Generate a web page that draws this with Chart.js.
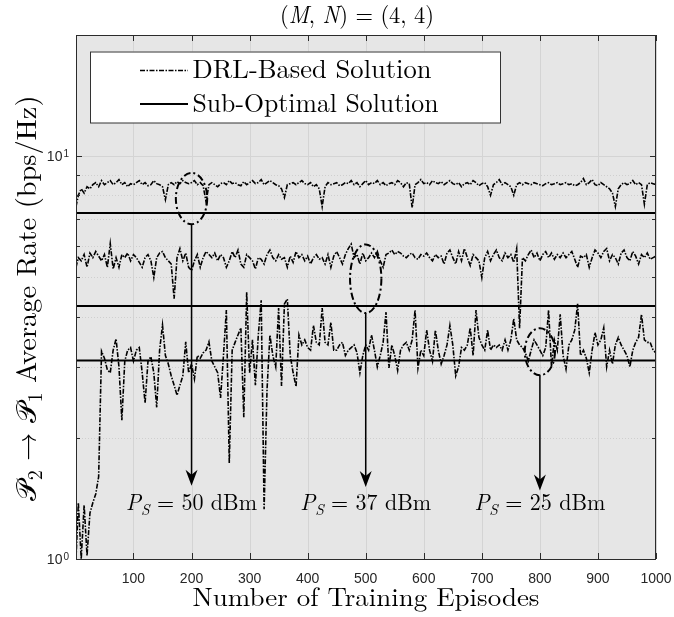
<!DOCTYPE html>
<html>
<head>
<meta charset="utf-8">
<script src="https://cdn.jsdelivr.net/npm/chart.js@4.4.0/dist/chart.umd.min.js"></script>
<style>
  html, body { margin: 0; padding: 0; background: #fff; }
</style>
</head>
<body>
<canvas id="rateChart" width="674" height="617"></canvas>
<script>
// episodes sampled every 5
const episodes = [1].concat(Array.from({ length: 200 }, (_, i) => (i + 1) * 5));

// P_S = 50 dBm
const drl50 = [7.5,
  8.0, 8.3, 8.1, 8.4, 8.3, 8.5, 8.6, 8.4, 8.7, 8.5,
  8.6, 8.7, 8.5, 8.6, 8.75, 8.5, 8.6, 8.4, 8.55, 8.5,
  8.6, 8.7, 8.5, 8.6, 8.45, 8.5, 8.7, 8.55, 8.5, 8.4,
  7.8, 8.5, 8.6, 8.5, 8.65, 8.55, 8.7, 8.6, 8.55, 8.6,
  8.7, 8.5, 8.6, 8.45, 7.7, 8.5, 8.6, 8.5, 8.4, 8.55,
  8.6, 8.5, 8.7, 8.55, 8.6, 8.5, 8.45, 8.65, 8.5, 8.6,
  8.7, 8.55, 8.6, 8.75, 8.5, 8.6, 8.7, 8.6, 8.5, 8.45,
  8.3, 7.9, 8.5, 8.55, 8.6, 8.5, 8.6, 8.7, 8.55, 8.5,
  8.6, 8.4, 8.5, 8.3, 7.5, 8.4, 8.6, 8.5, 8.55, 8.6,
  8.45, 8.5, 8.6, 8.55, 8.7, 8.5, 8.6, 8.4, 8.55, 8.7,
  8.5, 8.6, 8.55, 8.7, 8.5, 8.6, 8.45, 8.55, 8.6, 8.5,
  8.7, 8.6, 8.4, 8.6, 8.55, 7.45, 8.5, 8.6, 8.75, 8.55,
  8.6, 8.5, 8.7, 8.6, 8.55, 8.65, 8.5, 8.6, 8.7, 8.55,
  8.5, 8.6, 8.4, 8.55, 8.6, 8.5, 8.7, 8.6, 8.45, 8.55,
  8.6, 8.4, 8.0, 8.5, 8.6, 8.75, 8.5, 8.6, 8.5, 8.4,
  8.0, 8.5, 8.6, 8.5, 8.6, 8.55, 8.5, 8.6, 8.55, 8.5,
  8.45, 8.55, 8.6, 8.5, 8.55, 8.6, 8.5, 8.55, 8.6, 8.5,
  8.55, 8.45, 8.5, 8.6, 8.8, 8.5, 8.6, 8.75, 8.5, 8.45,
  8.6, 8.5, 8.4, 8.3, 8.1, 7.5, 8.3, 8.5, 8.6, 8.5,
  8.55, 8.7, 8.5, 8.6, 8.5, 7.6, 8.5, 8.6, 8.55, 8.5];

// P_S = 37 dBm
const drl37 = [5.3,
  5.6, 5.5, 5.7, 5.3, 5.75, 5.6, 5.8, 5.65, 5.5, 5.7,
  5.3, 6.07, 5.25, 5.6, 5.3, 5.7, 5.6, 5.75, 5.5, 5.7,
  5.6, 5.45, 5.3, 5.6, 5.7, 5.5, 5.0, 5.6, 5.75, 5.8,
  5.6, 5.5, 5.4, 4.43, 5.6, 5.9, 5.5, 5.75, 5.3, 5.2,
  5.5, 5.7, 5.3, 5.6, 5.8, 5.7, 5.6, 5.75, 5.5, 5.7,
  5.6, 5.3, 5.5, 5.8, 5.6, 5.85, 5.4, 5.3, 5.7, 5.6,
  5.5, 5.25, 5.6, 5.55, 5.4, 5.7, 5.85, 5.6, 5.5, 5.7,
  5.55, 5.6, 5.3, 5.65, 5.45, 5.8, 5.6, 5.7, 5.5, 5.65,
  5.4, 5.6, 5.7, 5.55, 5.6, 5.4, 5.7, 5.3, 5.65, 5.8,
  5.6, 5.4, 5.7, 5.9, 6.05, 5.6, 5.7, 5.4, 5.75, 5.5,
  5.6, 5.75, 5.6, 5.8, 5.5, 5.3, 5.7, 5.75, 5.85, 5.7,
  5.8, 5.75, 5.65, 5.6, 5.7, 5.75, 5.6, 5.55, 5.7, 5.65,
  5.75, 5.6, 5.5, 5.7, 5.6, 5.65, 5.4, 5.75, 5.85, 5.6,
  5.4, 5.8, 5.5, 5.9, 5.6, 5.35, 5.7, 5.6, 5.5, 5.0,
  5.6, 5.8, 5.5, 5.7, 5.85, 5.6, 5.5, 5.75, 5.6, 5.7,
  5.45, 5.9, 3.74, 5.6, 5.5, 5.7, 5.85, 5.6, 5.75, 5.5,
  5.7, 5.8, 5.6, 5.75, 5.55, 5.7, 5.6, 5.75, 5.6, 5.7,
  5.8, 5.55, 5.3, 5.65, 5.6, 5.7, 5.3, 5.6, 5.85, 5.75,
  5.6, 5.8, 5.9, 5.5, 5.7, 5.6, 5.4, 5.75, 5.85, 5.6,
  5.5, 5.8, 5.65, 5.4, 5.7, 5.6, 5.75, 5.55, 5.6, 5.65];

// P_S = 25 dBm
const drl25 = [1.0,
  1.38, 1.0, 1.36, 1.02, 1.3, 1.38, 1.45, 1.6, 3.28, 3.15,
  2.95, 2.9, 3.3, 3.52, 3.0, 2.21, 3.1, 3.3, 3.35, 3.1,
  3.3, 3.35, 2.9, 2.44, 3.1, 3.18, 2.9, 2.38, 3.3, 3.81,
  3.2, 3.05, 2.85, 2.7, 2.55, 2.7, 2.85, 3.46, 2.9, 3.05,
  2.8, 3.2, 3.15, 3.25, 3.3, 3.46, 3.1, 3.0, 2.9, 2.51,
  3.2, 4.15, 1.73, 3.3, 3.45, 3.6, 3.75, 2.25, 4.6, 2.9,
  3.5, 2.7, 3.6, 4.39, 1.33, 2.63, 3.6, 3.2, 3.0, 4.2,
  2.69, 4.3, 4.42, 3.2, 2.9, 2.68, 3.6, 3.4, 3.5, 3.35,
  3.3, 3.8, 3.45, 3.4, 4.2, 3.45, 3.4, 3.87, 3.3, 3.3,
  3.4, 3.45, 3.2, 3.3, 3.35, 3.4, 3.25, 2.9, 3.2, 3.4,
  3.3, 3.6, 3.3, 3.0, 3.2, 3.45, 4.1, 2.98, 3.4, 3.2,
  2.94, 3.3, 3.4, 3.45, 3.3, 3.5, 4.15, 2.98, 3.3, 3.2,
  3.7, 3.3, 3.1, 3.7, 3.3, 3.05, 3.2, 3.4, 3.8, 3.4,
  2.85, 3.0, 3.35, 3.3, 3.4, 3.75, 3.2, 4.15, 3.55, 3.4,
  3.3, 3.7, 3.3, 3.4, 3.35, 3.4, 3.3, 3.5, 3.3, 3.5,
  3.95, 3.5, 3.4, 3.35, 3.25, 3.1, 3.3, 3.5, 3.4, 3.3,
  3.2, 3.35, 4.15, 3.0, 3.5, 3.3, 4.05, 3.2, 2.96, 3.4,
  3.5, 3.7, 4.3, 3.2, 3.3, 3.15, 2.9, 3.3, 3.65, 3.4,
  3.5, 3.75, 3.0, 3.3, 3.05, 3.4, 3.55, 3.4, 3.3, 3.2,
  3.0, 3.3, 3.45, 3.55, 4.05, 3.5, 3.45, 3.45, 3.3, 3.25];

// sub-optimal levels for 50, 37, 25 dBm
const subOptimal = [7.23, 4.25, 3.11];

const xTicks = [100, 200, 300, 400, 500, 600, 700, 800, 900, 1000];
const yMajor = [1, 10];
const yMinor = [2, 3, 4, 5, 6, 7, 8, 9, 20];

const powerLabels = ['50', '37', '25'];
const markEpisodes = [200, 500, 800];

// ellipse extents (value units) and arrow tips for each marker
const marks = [
  { lo: 6.78, hi: 9.09, halfW: 27, tip: 1.52 },
  { lo: 4.08, hi: 6.04, halfW: 27, tip: 1.51 },
  { lo: 2.86, hi: 3.74, halfW: 26, tip: 1.48 }
];

const SERIF = '"Latin Modern Roman", "Liberation Serif", serif';
const SANS = '"Liberation Sans", Arial, sans-serif';

function fontFor(p, size) {
  const s = p.sub ? Math.round(size * 0.7) : size;
  return (p.it ? 'italic ' : '') + s + 'px ' + SERIF;
}

// draws text runs (italic / subscript), optionally stretched to a width
function drawRuns(ctx, parts, size, width, x, y, align, angle) {
  ctx.save();
  ctx.translate(x, y);
  if (angle) ctx.rotate(angle);
  let total = 0;
  const w = parts.map(p => {
    ctx.font = fontFor(p, size);
    const m = ctx.measureText(p.t).width;
    total += m;
    return m;
  });
  if (width) ctx.scale(width / total, 1);
  let cx = align === 'center' ? -total / 2 : 0;
  ctx.fillStyle = '#000';
  ctx.textBaseline = 'alphabetic';
  ctx.textAlign = 'left';
  parts.forEach((p, i) => {
    ctx.font = fontFor(p, size);
    ctx.fillText(p.t, cx, p.sub ? size * 0.22 : 0);
    cx += w[i];
  });
  ctx.restore();
}

function seg(ctx, x1, y1, x2, y2) {
  ctx.beginPath();
  ctx.moveTo(x1, y1);
  ctx.lineTo(x2, y2);
  ctx.stroke();
}

const frame = {
  id: 'frame',
  beforeDatasetsDraw(chart) {
    const { ctx, chartArea: a, scales: { x, y } } = chart;
    ctx.save();
    ctx.fillStyle = '#e6e6e6';
    ctx.fillRect(a.left, a.top, a.right - a.left, a.bottom - a.top);
    ctx.lineWidth = 1;
    ctx.strokeStyle = '#d4d4d4';
    xTicks.forEach(v => {
      const px = Math.round(x.getPixelForValue(v)) + 0.5;
      seg(ctx, px, a.top, px, a.bottom);
    });
    yMajor.forEach(v => {
      const py = Math.round(y.getPixelForValue(v)) + 0.5;
      seg(ctx, a.left, py, a.right, py);
    });
    ctx.strokeStyle = '#cfcfcf';
    ctx.setLineDash([1, 2]);
    yMinor.forEach(v => {
      const py = Math.round(y.getPixelForValue(v)) + 0.5;
      seg(ctx, a.left, py, a.right, py);
    });
    ctx.restore();
  },
  afterDatasetsDraw(chart) {
    const { ctx, chartArea: a, scales: { x, y } } = chart;
    ctx.save();

    // axes box and inward ticks
    ctx.strokeStyle = '#2b2b2b';
    ctx.lineWidth = 1;
    ctx.strokeRect(Math.round(a.left) + 0.5, Math.round(a.top) + 0.5,
      Math.round(a.right - a.left) - 1, Math.round(a.bottom - a.top));
    xTicks.forEach(v => {
      const px = Math.round(x.getPixelForValue(v)) + 0.5;
      seg(ctx, px, a.bottom, px, a.bottom - 6);
      seg(ctx, px, a.top, px, a.top + 6);
    });
    yMajor.concat(yMinor).forEach(v => {
      const py = Math.round(y.getPixelForValue(v)) + 0.5;
      const len = v === 1 || v === 10 ? 6 : 4;
      seg(ctx, a.left, py, a.left + len, py);
      seg(ctx, a.right, py, a.right - len, py);
    });

    // tick labels
    ctx.fillStyle = '#262626';
    ctx.font = '14px ' + SANS;
    ctx.textAlign = 'center';
    ctx.textBaseline = 'alphabetic';
    xTicks.forEach(v => ctx.fillText(String(v), x.getPixelForValue(v), a.bottom + 24));
    yMajor.forEach((v, i) => {
      const py = y.getPixelForValue(v);
      ctx.font = '10px ' + SANS;
      ctx.textAlign = 'right';
      ctx.fillText(String(i), a.left - 7, py + 1);
      const ew = ctx.measureText(String(i)).width;
      ctx.font = '14px ' + SANS;
      ctx.fillText('10', a.left - 8 - ew, py + 5);
    });

    // legend
    const lx = a.left + 14, ly = a.top + 16.5;
    ctx.fillStyle = '#fff';
    ctx.fillRect(lx, ly, 411, 71.5);
    ctx.strokeStyle = '#333';
    ctx.strokeRect(lx + 0.5, ly + 0.5, 410, 71);
    ctx.strokeStyle = '#000';
    ctx.lineWidth = 1.5;
    ctx.setLineDash(dashStyle);
    seg(ctx, a.left + 64, a.top + 35.5, a.left + 112, a.top + 35.5);
    ctx.setLineDash([]);
    ctx.lineWidth = 2;
    seg(ctx, a.left + 64, a.top + 69, a.left + 112, a.top + 69);
    drawRuns(ctx, [{ t: 'DRL-Based Solution' }], 26.5, 239, a.left + 116.5, a.top + 43, 'left');
    drawRuns(ctx, [{ t: 'Sub-Optimal Solution' }], 26.5, 246, a.left + 116.5, a.top + 76.5, 'left');

    // ellipses, arrows and power labels
    markEpisodes.forEach((ep, i) => {
      const m = marks[i];
      const cx = x.getPixelForValue(ep);
      const top = y.getPixelForValue(m.hi);
      const bot = y.getPixelForValue(m.lo);
      const rx = x.getPixelForValue(ep + m.halfW) - cx;
      ctx.strokeStyle = '#000';
      ctx.lineWidth = 2;
      ctx.setLineDash([7, 3, 2, 3]);
      ctx.beginPath();
      ctx.ellipse(cx, (top + bot) / 2, rx, (bot - top) / 2, 0, 0, Math.PI * 2);
      ctx.stroke();
      ctx.setLineDash([]);
      const tip = y.getPixelForValue(m.tip);
      ctx.lineWidth = 1.5;
      seg(ctx, cx, bot, cx, tip - 10);
      ctx.fillStyle = '#000';
      ctx.beginPath();
      ctx.moveTo(cx, tip);
      ctx.lineTo(cx - 6, tip - 16);
      ctx.lineTo(cx, tip - 11);
      ctx.lineTo(cx + 6, tip - 16);
      ctx.closePath();
      ctx.fill();
      drawRuns(ctx, [{ t: 'P', it: true }, { t: 'S', it: true, sub: true }, { t: ' = ' + powerLabels[i] + ' dBm' }],
        23, 131, cx, y.getPixelForValue(1.32), 'center');
    });

    // titles
    drawRuns(ctx, [{ t: '(' }, { t: 'M', it: true }, { t: ', ' }, { t: 'N', it: true }, { t: ') = (4, 4)' }],
      24, 154, 357, 23, 'center');
    drawRuns(ctx, [{ t: 'Number of Training Episodes' }], 26, 347, (a.left + a.right) / 2, 606, 'center');
    drawRuns(ctx, [{ t: '\u{1D4AB}' }, { t: '2', sub: true }, { t: ' \u2192 ' }, { t: '\u{1D4AB}' }, { t: '1', sub: true },
      { t: ' Average Rate (bps/Hz)' }], 28, 405, 36, 298, 'center', -Math.PI / 2);

    ctx.restore();
  }
};

const dashStyle = [5, 1.5, 1.5, 1.5];
const drlSeries = [drl50, drl37, drl25];

const datasets = drlSeries.map((vals, k) => ({
  label: 'DRL ' + powerLabels[k],
  data: episodes.map((e, i) => ({ x: e, y: vals[i] })),
  borderColor: '#000',
  borderWidth: 1.6,
  borderDash: dashStyle,
  pointRadius: 0,
  tension: 0
})).concat(subOptimal.map((v, k) => ({
  label: 'Sub-optimal ' + powerLabels[k],
  data: [{ x: 1, y: v }, { x: 1000, y: v }],
  borderColor: '#000',
  borderWidth: 2,
  pointRadius: 0
})));

new Chart(document.getElementById('rateChart').getContext('2d'), {
  type: 'line',
  data: { datasets },
  options: {
    responsive: false,
    animation: false,
    layout: { padding: { top: 35, right: 18, left: 0, bottom: 0 } },
    plugins: { legend: { display: false }, tooltip: { enabled: false } },
    scales: {
      x: {
        type: 'linear', min: 1, max: 1000,
        grid: { display: false }, border: { display: false },
        ticks: { display: false },
        afterFit(s) { s.height = 58; }
      },
      y: {
        type: 'logarithmic', min: 1, max: 20,
        grid: { display: false }, border: { display: false },
        ticks: { display: false },
        afterFit(s) { s.width = 76; }
      }
    }
  },
  plugins: [frame]
});
</script>
</body>
</html>
